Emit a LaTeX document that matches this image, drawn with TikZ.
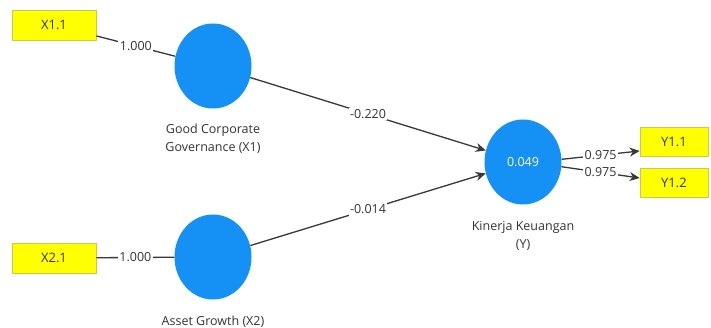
\documentclass[tikz,border=0pt]{standalone}
\usepackage{fontspec}
\setmainfont{Open Sans}
\usetikzlibrary{shapes.geometric,arrows.meta}
\definecolor{lvblue}{HTML}{1591F5}
\definecolor{indyellow}{HTML}{FFFF00}
\definecolor{indborder}{HTML}{C9C94A}
\definecolor{txtgray}{HTML}{333333}
\definecolor{linegray}{HTML}{383838}
\begin{document}
\begin{tikzpicture}[x=1pt,y=-1pt,
  ind/.style={draw=indborder,fill=indyellow,line width=0.8pt,minimum width=84pt,minimum height=30pt,inner sep=0pt,font=\fontsize{13}{15}\selectfont,text=txtgray},
  indr/.style={ind,minimum width=68pt,minimum height=29pt},
  lv/.style={ellipse,fill=lvblue,minimum width=77pt,minimum height=85pt,inner sep=0pt,text=white,font=\fontsize{12.5}{14}\selectfont},
  lvlbl/.style={align=center,text=txtgray,font=\fontsize{12.5}{18}\selectfont,inner sep=0pt},
  edge/.style={draw=linegray,line width=1.3pt},
  arr/.style={edge,-{Stealth[length=10pt,width=9pt]}},
  elbl/.style={fill=white,text=txtgray,inner sep=1.5pt,font=\fontsize{12.5}{14}\selectfont}]
\useasboundingbox[fill=white] (0,0) rectangle (711,328);
\node[ind] (x11) at (54,25) {X1.1};
\node[lv] (x1) at (213,66) {};
\node[lvlbl] (x1l) at (213,139) {Good Corporate\\Governance (X1)};
\node[ind] (x21) at (54,258) {X2.1};
\node[lv] (x2) at (213,257) {};
\node[lvlbl] (x2l) at (213,322) {Asset Growth (X2)};
\node[lv] (y) at (523,162) {0.049};
\node[lvlbl] (yl) at (523,236) {Kinerja Keuangan\\(Y)};
\node[indr] (y11) at (674,141.5) {Y1.1};
\node[indr] (y12) at (674,182.5) {Y1.2};
\draw[edge] (x11) -- node[elbl]{1.000} (x1);
\draw[edge] (x21) -- node[elbl]{1.000} (x2);
\draw[arr] (x1) -- node[elbl]{-0.220} (y);
\draw[arr] (x2) -- node[elbl]{-0.014} (y);
\draw[arr] (y.4) -- node[elbl]{0.975} ([yshift=-9.5pt]y11.west);
\draw[arr] (y.-7) -- node[elbl]{0.975} ([yshift=4.5pt]y12.west);
\end{tikzpicture}
\end{document}
